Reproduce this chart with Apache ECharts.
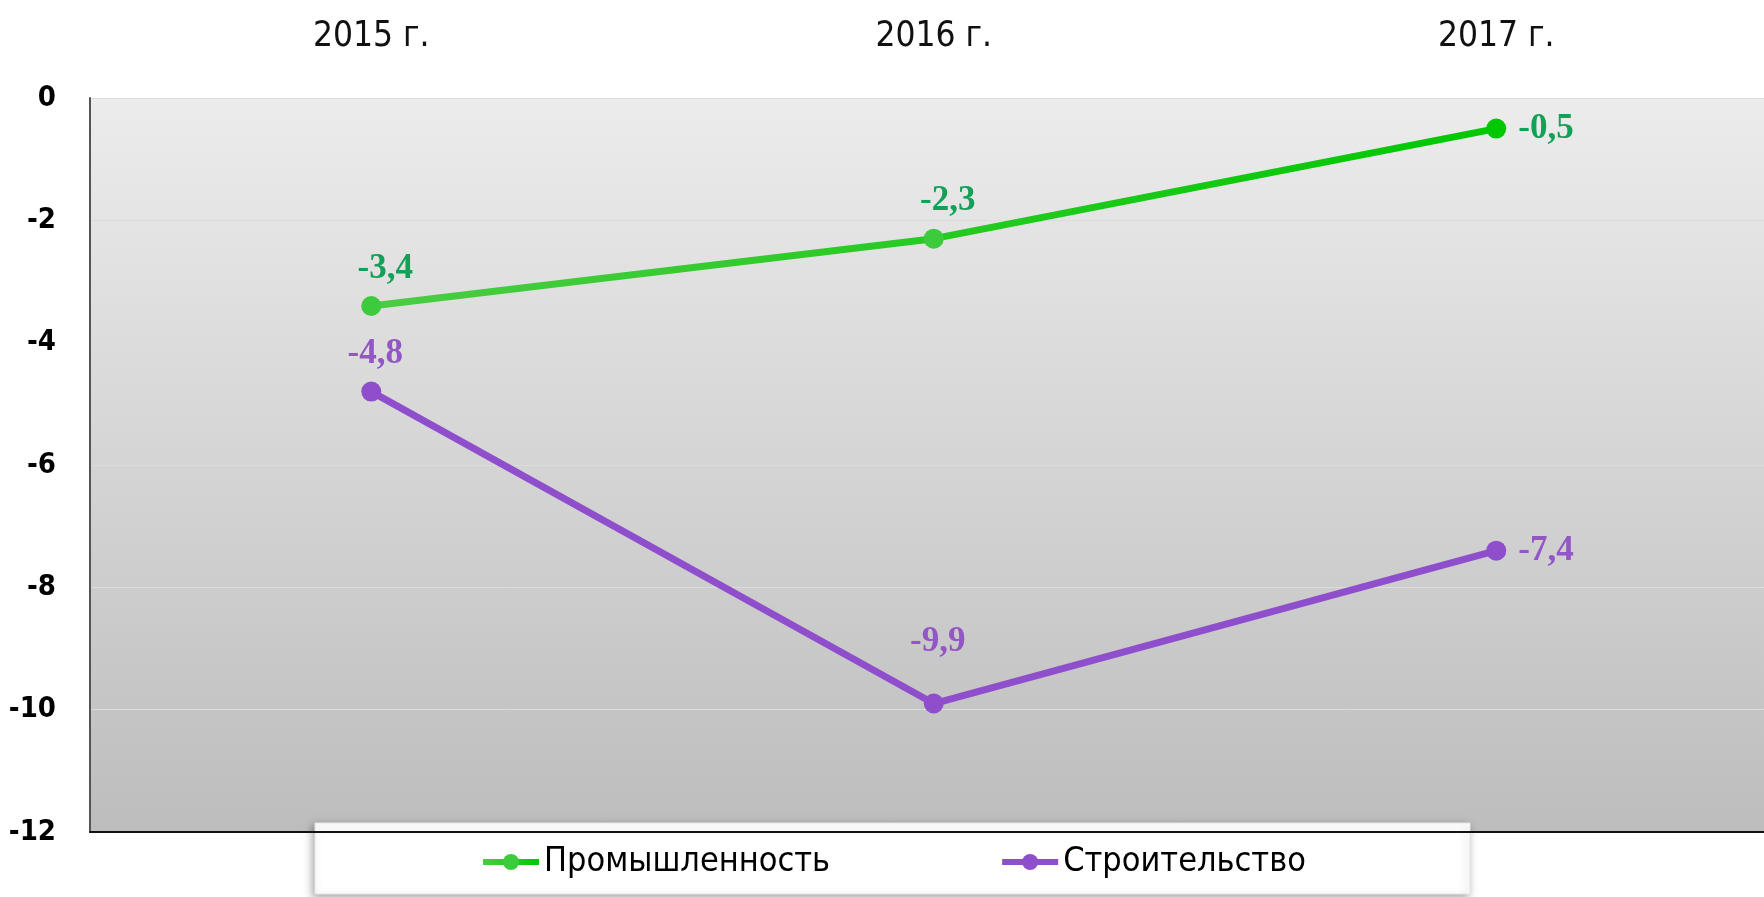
<!DOCTYPE html>
<html>
<head>
<meta charset="utf-8">
<script src="https://cdn.jsdelivr.net/npm/echarts@6/dist/echarts.min.js"></script>
<style>
html,body{margin:0;padding:0;background:#fff;}
#chart{width:1764px;height:897px;}
</style>
</head>
<body>
<div id="chart"></div>
<script>
const categories = ['2015 г.', '2016 г.', '2017 г.'];
const industry = [-3.4, -2.3, -0.5];
const construction = [-4.8, -9.9, -7.4];
const seriesNames = ['Промышленность', 'Строительство'];

const chart = echarts.init(document.getElementById('chart'));
const fmt = p => String(p.value[1]).replace('.', ',');
const narrow = '"DejaVu Sans Condensed", "Liberation Sans Narrow", sans-serif';
const serif = '"Liberation Serif", "Times New Roman", serif';

// plot area runs past the right edge of the page: each category band is 562.5px wide
const gridLeft = 90, gridWidth = 1764 - 90, band = 562.5;
const xMin = -0.5, xMax = -0.5 + gridWidth / band;
const catIdx = categories.map((c, i) => i);

chart.setOption({
  animation: false,
  backgroundColor: '#ffffff',
  grid: {
    left: gridLeft, top: 98, width: gridWidth, height: 734,
    show: true, borderWidth: 0,
    backgroundColor: new echarts.graphic.LinearGradient(0, 0, 0, 1, [
      {offset: 0, color: '#ececec'},
      {offset: 1, color: '#bdbdbd'}
    ])
  },
  graphic: [{
    type: 'rect', z: 3,
    shape: {x: 315, y: 823, width: 1155, height: 71},
    style: {fill: '#ffffff', stroke: '#e6e6e6', lineWidth: 1,
      shadowBlur: 8, shadowOffsetX: -2, shadowOffsetY: 3, shadowColor: 'rgba(0,0,0,0.35)'}
  }],
  legend: {
    z: 6,
    left: 475, top: 840,
    itemGap: 169,
    itemWidth: 56, itemHeight: 20,
    lineStyle: {width: 6},
    textStyle: {fontFamily: narrow, fontSize: 34, color: '#000'},
    data: seriesNames
  },
  xAxis: [{
    type: 'value', position: 'top', min: xMin, max: xMax,
    axisLine: {show: false, onZero: false}, axisTick: {show: false}, splitLine: {show: false},
    axisLabel: {customValues: catIdx, formatter: v => categories[Math.round(v)],
      fontFamily: narrow, fontSize: 35, color: '#111', margin: 44}
  }, {
    type: 'value', position: 'bottom', min: xMin, max: xMax, z: 7,
    axisLine: {show: true, onZero: false, lineStyle: {color: '#111', width: 2}},
    axisTick: {show: false}, axisLabel: {show: false}, splitLine: {show: false}
  }],
  yAxis: {
    type: 'value', min: -12, max: 0, interval: 2,
    axisLine: {show: true, onZero: false, lineStyle: {color: '#555', width: 2}},
    axisTick: {show: false},
    splitLine: {lineStyle: {color: '#dcdcdc', width: 1}},
    axisLabel: {fontFamily: narrow, fontSize: 29, fontWeight: 'bold', color: '#000', margin: 34}
  },
  series: [{
    name: seriesNames[0], type: 'line', xAxisIndex: 0,
    symbol: 'circle', symbolSize: 20,
    lineStyle: {width: 7, color: new echarts.graphic.LinearGradient(0, 0, 1, 0, [
      {offset: 0, color: '#4ccc44'}, {offset: 1, color: '#00c800'}])},
    itemStyle: {color: '#3ccb3c'},
    label: {show: true, formatter: fmt, fontFamily: serif, fontWeight: 'bold', fontSize: 35,
      color: '#13a057', position: 'top', distance: 10, offset: [14, 0]},
    data: industry.map((v, i) => i === 2
      ? {value: [i, v], itemStyle: {color: '#00c800'}, label: {position: 'right', distance: 12, offset: [0, 0]}}
      : {value: [i, v]})
  }, {
    name: seriesNames[1], type: 'line', xAxisIndex: 0,
    symbol: 'circle', symbolSize: 20,
    lineStyle: {width: 7, color: '#8f4fcc'},
    itemStyle: {color: '#8f4fcc'},
    label: {show: true, formatter: fmt, fontFamily: serif, fontWeight: 'bold', fontSize: 35,
      color: '#9256c6', position: 'top', distance: 10, offset: [4, 0]},
    data: construction.map((v, i) => i === 1
      ? {value: [i, v], label: {offset: [4, -24]}}
      : i === 2 ? {value: [i, v], label: {position: 'right', distance: 12, offset: [0, 0]}} : {value: [i, v]})
  }]
});
</script>
</body>
</html>
